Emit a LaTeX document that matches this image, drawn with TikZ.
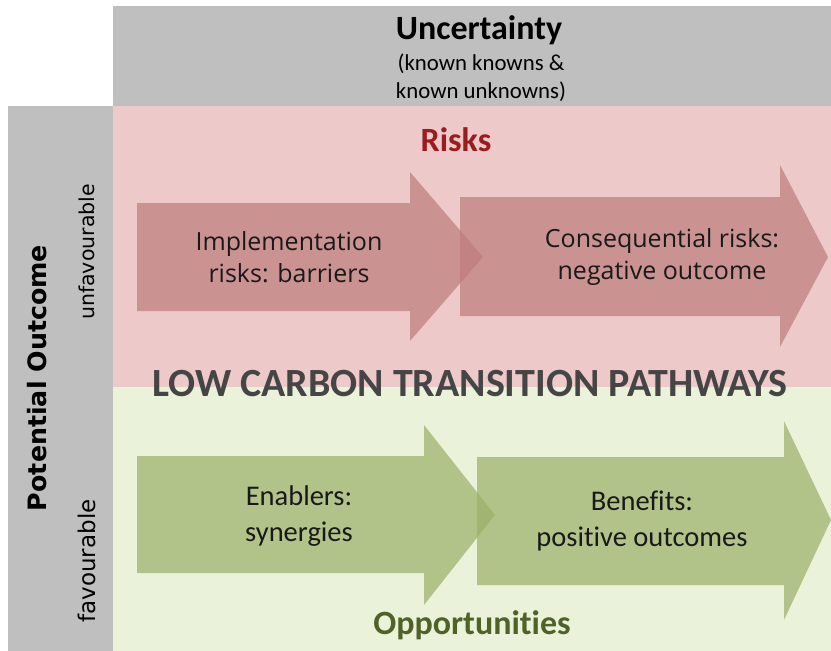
\documentclass[tikz,border=0pt]{standalone}
\usepackage{fontspec}
\setmainfont{Carlito}[RawFeature={-liga;-clig;-calt;-dlig}]
\newfontfamily\widefont{DejaVu Sans}
\newfontfamily\opensans{Open Sans}
\definecolor{bandgrey}{HTML}{BFBFBF}
\definecolor{riskbg}{HTML}{EEC9CA}
\definecolor{oppbg}{HTML}{EAF2DA}
\definecolor{riskarrow}{RGB}{189,124,123}
\definecolor{opparrow}{RGB}{155,176,104}
\definecolor{risktext}{HTML}{9B1C1F}
\definecolor{opptext}{HTML}{4F6228}
\definecolor{maintext}{HTML}{454545}
\tikzset{
  redarrow/.style={fill=riskarrow,fill opacity=0.7,draw=none},
  greenarrow/.style={fill=opparrow,fill opacity=0.7,draw=none},
  arrowtext/.style={align=center,font=\opensans\fontsize{25}{32}\selectfont,text=black!90},
  arrowtextc/.style={align=center,font=\fontsize{28.5}{36}\selectfont,text=black!90},
  sidelabel/.style={rotate=90,font=\widefont\fontsize{20.5}{24}\selectfont}
}
\begin{document}
\begin{tikzpicture}[x=1pt,y=-1pt]
\useasboundingbox (0,0) rectangle (831,651);
% bands
\fill[bandgrey] (113,6) rectangle (831,106);
\fill[bandgrey] (8,106) rectangle (113,651);
\fill[riskbg] (113,106) rectangle (831,387);
\fill[oppbg] (113,387) rectangle (831,651);
% arrows
\fill[redarrow] (137,203) -- (410,203) -- (410,172) -- (483,257) -- (410,341) -- (410,311) -- (137,311) -- cycle;
\fill[redarrow] (460,197) -- (780,197) -- (780,165) -- (828,257) -- (780,347) -- (780,316) -- (460,316) -- cycle;
\fill[greenarrow] (137,456) -- (424,456) -- (424,425) -- (495,515) -- (424,605) -- (424,573) -- (137,573) -- cycle;
\fill[greenarrow] (477,457) -- (784,457) -- (784,421) -- (831,520) -- (784,620) -- (784,585) -- (477,585) -- cycle;
% texts
\node[font=\bfseries\fontsize{34}{36}\selectfont] (unc) at (479,30) {Uncertainty};
\node[align=center,font=\fontsize{22.8}{28}\selectfont] (uncsub) at (481,78) {(known knowns \&\\known unknowns)};
\node[font=\bfseries\fontsize{34}{36}\selectfont,text=risktext] (risks) at (456,140) {Risks};
\node[arrowtext] (impl) at (289,257) {Implementation\\risks: barriers};
\node[arrowtext] (cons) at (662,257) {Consequential risks:\\negative outcome};
\node[font=\bfseries\fontsize{40}{44}\selectfont,text=maintext] (lct) at (470,384) {LOW CARBON TRANSITION PATHWAYS};
\node[arrowtextc] (enab) at (299,516) {Enablers:\\synergies};
\node[arrowtextc] (bene) at (642,521) {Benefits:\\positive outcomes};
\node[font=\bfseries\fontsize{34}{36}\selectfont,text=opptext] (opp) at (472,625) {Opportunities};
\node[sidelabel,font=\widefont\bfseries\fontsize{25.3}{28}\selectfont] (pot) at (37,378) {Potential Outcome};
\node[sidelabel] (unfav) at (87,252) {unfavourable};
\node[sidelabel,font=\widefont\fontsize{23}{26}\selectfont] (fav) at (87,561) {favourable};
\end{tikzpicture}
\end{document}
